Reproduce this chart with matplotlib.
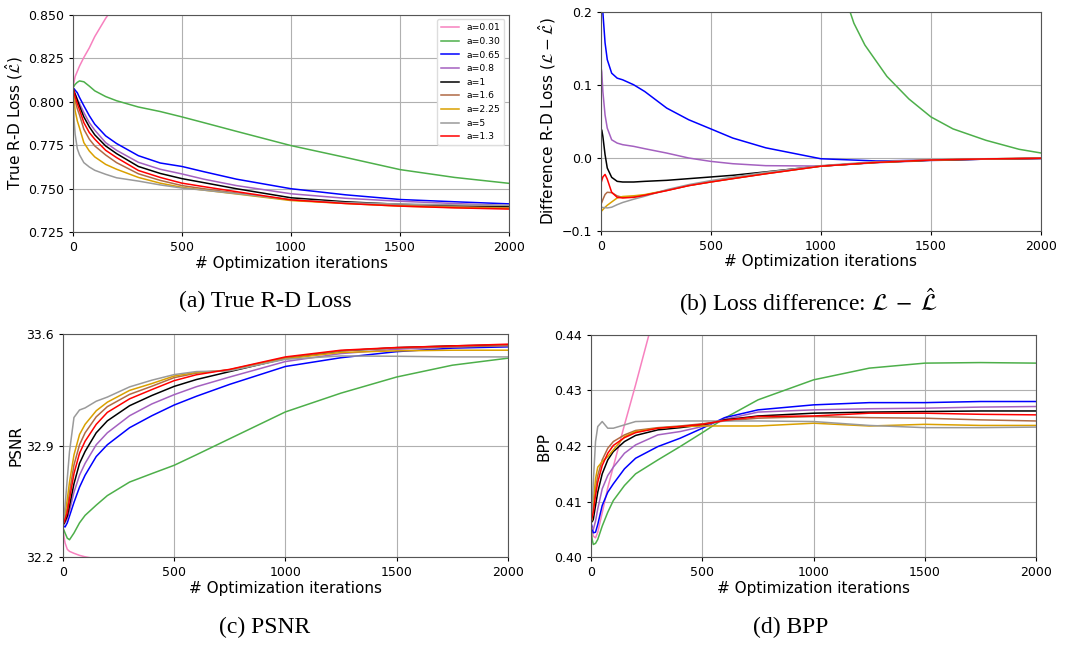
import numpy as np
import matplotlib
matplotlib.use("Agg")
import matplotlib.pyplot as plt

nan = np.nan

# optimization iterations where values were read
iters = [0, 5, 10, 20, 30, 50, 75, 100, 150, 200, 300, 400, 500, 600, 750, 1000, 1250, 1500, 1750, 2000]

labels = ["a=0.01", "a=0.30", "a=0.65", "a=0.8", "a=1", "a=1.6", "a=2.25", "a=5", "a=1.3"]
colors = ["#f781bf", "#4daf4a", "#0000ff", "#a461c0", "#000000", "#b06a45", "#daa000", "#9a9a9a", "#ff0000"]

# (a) true R-D loss
loss_001 = [0.808, 0.8115, 0.8145, 0.8175, 0.8205, 0.8255, 0.831, 0.8375, 0.848, 0.857] + [nan] * 10
loss_030 = [0.808, 0.809, 0.810, 0.8112, 0.812, 0.8115, 0.809, 0.8063, 0.803, 0.8006, 0.797, 0.7944, 0.7913, 0.788, 0.783, 0.7748, 0.768, 0.761, 0.7565, 0.7531]
loss_065 = [0.808, 0.8075, 0.8067, 0.8052, 0.8025, 0.7977, 0.792, 0.7871, 0.7804, 0.776, 0.769, 0.7648, 0.7628, 0.7598, 0.7555, 0.7500, 0.7465, 0.7438, 0.7425, 0.7413]
loss_080 = [0.808, 0.806, 0.8045, 0.8015, 0.799, 0.7938, 0.788, 0.7837, 0.7765, 0.7721, 0.7652, 0.7612, 0.7585, 0.7555, 0.7518, 0.7471, 0.7445, 0.7428, 0.7415, 0.7403]
loss_1 = [0.808, 0.806, 0.8044, 0.801, 0.7975, 0.7913, 0.7856, 0.781, 0.7746, 0.7702, 0.7628, 0.7588, 0.7558, 0.7535, 0.750, 0.7448, 0.7425, 0.741, 0.7402, 0.7396]
loss_16 = [0.808, 0.804, 0.8006, 0.796, 0.7925, 0.7842, 0.7785, 0.7746, 0.7694, 0.765, 0.7586, 0.7548, 0.7518, 0.7500, 0.7475, 0.7435, 0.7418, 0.7405, 0.7396, 0.739]
loss_225 = [0.808, 0.801, 0.7948, 0.789, 0.785, 0.7765, 0.7717, 0.7683, 0.764, 0.7612, 0.7565, 0.7532, 0.7508, 0.7492, 0.7470, 0.7432, 0.7415, 0.740, 0.7392, 0.7387]
loss_5 = [0.808, 0.790, 0.7813, 0.773, 0.7695, 0.765, 0.7625, 0.7606, 0.7583, 0.7563, 0.7544, 0.7522, 0.7504, 0.7492, 0.7472, 0.7437, 0.742, 0.7412, 0.7407, 0.7404]
loss_13 = [0.808, 0.8055, 0.8029, 0.799, 0.7955, 0.788, 0.7823, 0.7785, 0.7721, 0.7679, 0.7605, 0.7565, 0.7532, 0.7512, 0.7483, 0.7436, 0.7415, 0.7400, 0.739, 0.7383]

# (b) loss difference
diff_001 = [nan] * 20
diff_065 = [0.26, 0.23, 0.20, 0.158, 0.135, 0.1164, 0.1096, 0.1073, 0.1005, 0.0913, 0.0685, 0.0525, 0.040, 0.0274, 0.014, -0.001, -0.004, -0.003, -0.0015, -0.0005]
diff_080 = [0.128, 0.118, 0.0913, 0.059, 0.041, 0.025, 0.0205, 0.0183, 0.016, 0.0128, 0.0068, 0.0, -0.0046, -0.0078, -0.0105, -0.011, -0.0065, -0.0035, -0.0015, -0.0005]
diff_1 = [0.032, 0.0385, 0.0297, 0.0046, -0.0137, -0.0265, -0.032, -0.0329, -0.0329, -0.032, -0.0306, -0.0283, -0.026, -0.0237, -0.019, -0.011, -0.006, -0.003, -0.0015, -0.0005]
diff_16 = [-0.064, -0.061, -0.057, -0.050, -0.047, -0.0475, -0.052, -0.054, -0.0535, -0.0508, -0.0445, -0.0378, -0.0328, -0.0282, -0.0215, -0.0112, -0.006, -0.0027, -0.0012, -0.0003]
diff_225 = [-0.074, -0.0725, -0.0708, -0.0676, -0.0648, -0.0603, -0.0548, -0.0528, -0.0518, -0.0502, -0.0443, -0.0376, -0.0326, -0.028, -0.0213, -0.011, -0.006, -0.0027, -0.0012, -0.0003]
diff_5 = [-0.067, -0.0675, -0.068, -0.068, -0.0685, -0.0675, -0.064, -0.061, -0.0565, -0.0525, -0.0434, -0.0365, -0.031, -0.0262, -0.0195, -0.0105, -0.005, -0.0022, -0.001, -0.0002]
diff_13 = [-0.036, -0.031, -0.026, -0.0225, -0.029, -0.047, -0.0539, -0.0548, -0.0539, -0.0511, -0.0447, -0.0379, -0.0329, -0.0283, -0.0216, -0.0112, -0.006, -0.0027, -0.0012, -0.0003]
# a=0.30 only enters the (b) window late, read on its own iterations
diff_030_iters = [1050, 1100, 1150, 1200, 1300, 1400, 1500, 1600, 1750, 1900, 2000]
diff_030 = [0.27, 0.23, 0.185, 0.155, 0.112, 0.081, 0.0564, 0.040, 0.0243, 0.012, 0.0069]

# (c) PSNR
psnr_001 = [32.385, 32.33, 32.29, 32.25, 32.237, 32.225, 32.212, 32.203, 32.19] + [nan] * 11
psnr_030 = [32.384, 32.37, 32.352, 32.32, 32.31, 32.352, 32.416, 32.463, 32.527, 32.587, 32.672, 32.725, 32.777, 32.843, 32.944, 33.112, 33.23, 33.331, 33.405, 33.449]
psnr_065 = [32.399, 32.395, 32.39, 32.416, 32.459, 32.544, 32.64, 32.715, 32.832, 32.906, 33.013, 33.088, 33.155, 33.21, 33.285, 33.397, 33.452, 33.49, 33.512, 33.52]
psnr_080 = [32.405, 32.41, 32.416, 32.442, 32.491, 32.608, 32.715, 32.789, 32.906, 32.981, 33.088, 33.162, 33.22, 33.27, 33.331, 33.428, 33.478, 33.505, 33.52, 33.527]
psnr_1 = [32.405, 32.41, 32.427, 32.459, 32.523, 32.661, 32.789, 32.864, 32.981, 33.056, 33.151, 33.215, 33.272, 33.315, 33.365, 33.447, 33.495, 33.515, 33.526, 33.533]
psnr_16 = [32.405, 32.425, 32.449, 32.512, 32.608, 32.779, 32.906, 32.981, 33.081, 33.145, 33.222, 33.273, 33.327, 33.355, 33.377, 33.452, 33.495, 33.513, 33.52, 33.528]
psnr_225 = [32.405, 32.43, 32.47, 32.565, 32.672, 32.842, 32.97, 33.034, 33.119, 33.173, 33.247, 33.29, 33.337, 33.36, 33.373, 33.445, 33.485, 33.495, 33.499, 33.499]
psnr_5 = [32.405, 32.448, 32.523, 32.693, 32.864, 33.077, 33.124, 33.137, 33.179, 33.205, 33.269, 33.311, 33.346, 33.365, 33.37, 33.442, 33.463, 33.461, 33.457, 33.457]
psnr_13 = [32.405, 32.42, 32.438, 32.48, 32.565, 32.725, 32.853, 32.928, 33.034, 33.109, 33.194, 33.252, 33.308, 33.345, 33.379, 33.457, 33.499, 33.516, 33.526, 33.537]

# (d) BPP
bpp_001 = [0.406, 0.405, 0.4038, 0.4035, 0.4045, 0.408, 0.4125, 0.4163, 0.4238, 0.431, 0.446] + [nan] * 9
bpp_030 = [0.405, 0.4032, 0.4023, 0.4025, 0.4032, 0.4056, 0.4081, 0.4102, 0.4129, 0.415, 0.4175, 0.4199, 0.4224, 0.425, 0.4283, 0.4319, 0.434, 0.4349, 0.435, 0.4349]
bpp_065 = [0.4062, 0.4053, 0.4044, 0.4045, 0.4059, 0.4093, 0.4117, 0.4132, 0.4159, 0.4178, 0.4199, 0.4214, 0.4232, 0.4251, 0.4265, 0.4274, 0.4278, 0.4278, 0.428, 0.428]
bpp_080 = [0.4056, 0.4053, 0.405, 0.4065, 0.4087, 0.4123, 0.4147, 0.4162, 0.4187, 0.4202, 0.422, 0.4226, 0.4235, 0.4248, 0.4261, 0.4265, 0.4267, 0.4268, 0.427, 0.4271]
bpp_1 = [0.4064, 0.4064, 0.4068, 0.4093, 0.4117, 0.415, 0.4175, 0.419, 0.4208, 0.4219, 0.4229, 0.4233, 0.4238, 0.4247, 0.4254, 0.4259, 0.4261, 0.4262, 0.4263, 0.4263]
bpp_16 = [0.4065, 0.408, 0.4093, 0.4123, 0.4147, 0.4175, 0.4196, 0.4208, 0.422, 0.4228, 0.4233, 0.4236, 0.424, 0.4245, 0.425, 0.4253, 0.4251, 0.425, 0.4247, 0.4245]
bpp_225 = [0.4062, 0.407, 0.4099, 0.4141, 0.4162, 0.4172, 0.4181, 0.4193, 0.4217, 0.4226, 0.4232, 0.4235, 0.4236, 0.4236, 0.4236, 0.4241, 0.4236, 0.4239, 0.4237, 0.4237]
bpp_5 = [0.4065, 0.409, 0.4135, 0.4208, 0.4235, 0.4244, 0.4232, 0.4232, 0.4238, 0.4244, 0.4245, 0.4245, 0.4245, 0.4245, 0.4245, 0.4244, 0.4237, 0.4233, 0.4233, 0.4234]
bpp_13 = [0.4065, 0.4072, 0.4081, 0.4111, 0.4135, 0.4165, 0.4187, 0.4201, 0.4215, 0.4224, 0.4232, 0.4235, 0.4239, 0.4246, 0.4253, 0.4254, 0.4259, 0.4259, 0.4257, 0.4256]

loss = [loss_001, loss_030, loss_065, loss_080, loss_1, loss_16, loss_225, loss_5, loss_13]
diff = [diff_001, diff_030, diff_065, diff_080, diff_1, diff_16, diff_225, diff_5, diff_13]
psnr = [psnr_001, psnr_030, psnr_065, psnr_080, psnr_1, psnr_16, psnr_225, psnr_5, psnr_13]
bpp = [bpp_001, bpp_030, bpp_065, bpp_080, bpp_1, bpp_16, bpp_225, bpp_5, bpp_13]

fig = plt.figure(figsize=(10.65, 6.45), dpi=100)

ax_a = fig.add_axes([0.0685, 0.640, 0.4095, 0.337])
ax_b = fig.add_axes([0.564, 0.642, 0.4135, 0.339])
ax_c = fig.add_axes([0.059, 0.136, 0.418, 0.346])
ax_d = fig.add_axes([0.555, 0.136, 0.418, 0.345])

panels = [
    (ax_a, loss, (0.725, 0.850), np.arange(0.725, 0.8501, 0.025), "{:.3f}", r"True R-D Loss ($\hat{\mathcal{L}}$)"),
    (ax_b, diff, (-0.1, 0.2), [-0.1, 0.0, 0.1, 0.2], "{:.1f}", r"Difference R-D Loss ($\mathcal{L} - \hat{\mathcal{L}}$)"),
    (ax_c, psnr, (32.2, 33.6), [32.2, 32.9, 33.6], "{:.1f}", "PSNR"),
    (ax_d, bpp, (0.40, 0.44), [0.40, 0.41, 0.42, 0.43, 0.44], "{:.2f}", "BPP"),
]

for ax, series, ylim, yticks, fmt, ylabel in panels:
    for vals, lab, col in zip(series, labels, colors):
        xs = diff_030_iters if vals is diff_030 else iters
        ax.plot(xs, vals, color=col, lw=1.1, label=lab)
    ax.set_xlim(0, 2000)
    ax.set_ylim(*ylim)
    ax.set_xticks([0, 500, 1000, 1500, 2000])
    ax.set_yticks(yticks)
    ax.set_yticklabels([fmt.format(v).replace("-", "\u2212") for v in yticks])
    ax.tick_params(labelsize=9, length=3)
    ax.grid(True, color="#b0b0b0", lw=0.8)
    ax.set_axisbelow(True)
    ax.set_xlabel("# Optimization iterations", fontsize=11, labelpad=1)
    ax.set_ylabel(ylabel, fontsize=11, labelpad=2)
    for sp in ax.spines.values():
        sp.set_color("#555555")

ax_a.legend(loc="upper right", fontsize=6.7, framealpha=1.0, edgecolor="#dddddd")

cap = dict(fontsize=17, family="Liberation Serif", ha="center", va="center", math_fontfamily="stix")
fig.text(265 / 1065, 1 - 301 / 645, "(a) True R-D Loss", **cap)
fig.text(808 / 1065, 1 - 302 / 645, r"(b) Loss difference: $\mathcal{L}\;-\;\hat{\mathcal{L}}$", **cap)
fig.text(265 / 1065, 1 - 627 / 645, "(c) PSNR", **cap)
fig.text(791 / 1065, 1 - 627 / 645, "(d) BPP", **cap)

fig.savefig("out.png", dpi=100)
